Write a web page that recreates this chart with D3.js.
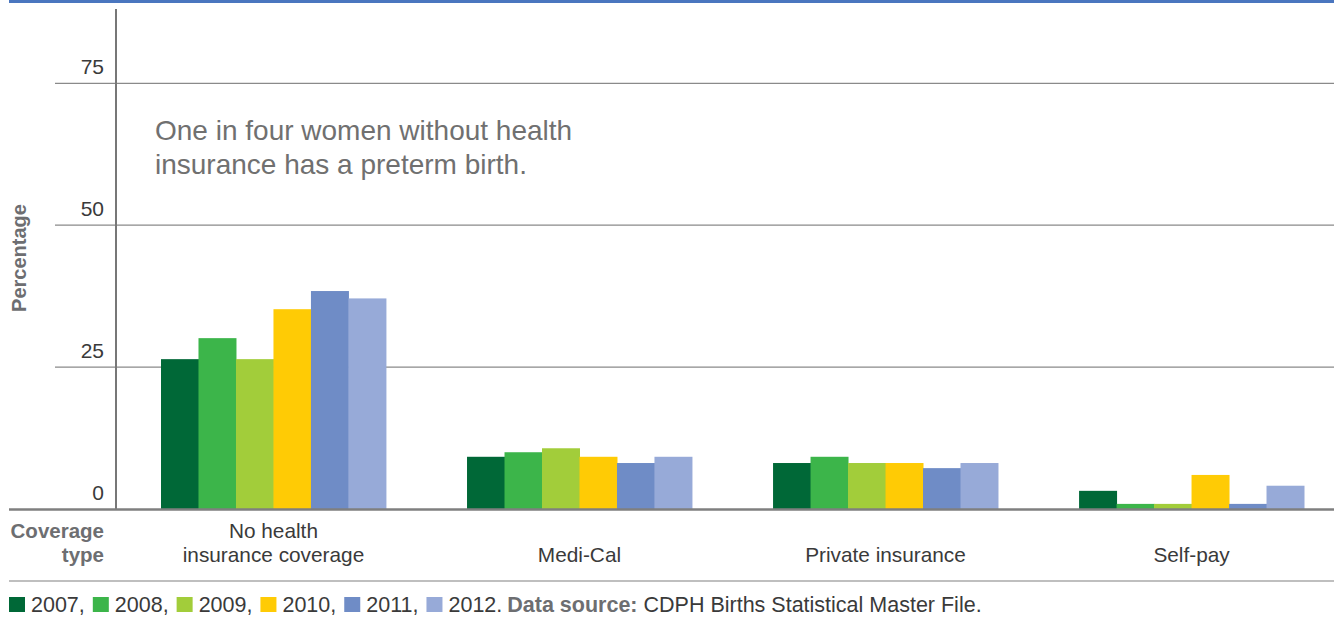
<!DOCTYPE html>
<html lang="en">
<head>
    <meta charset="UTF-8">
    <title>Preterm birth by coverage type</title>
    <style>
        body { margin: 0; background: #fff; }
        svg text { font-family: "Liberation Sans", Arial, sans-serif; }
    </style>
</head>
<body>

<svg class="chart"></svg>

<script src="https://cdn.jsdelivr.net/npm/d3@7/dist/d3.min.js"></script>

<script>

    var categories = ["No health insurance coverage", "Medi-Cal", "Private insurance", "Self-pay"];
    var categoryLines = [["No health", "insurance coverage"], ["Medi-Cal"], ["Private insurance"], ["Self-pay"]];
    var years = ["2007", "2008", "2009", "2010", "2011", "2012"];
    var colors = ["#006837", "#3cb54a", "#a2cd3a", "#ffcb05", "#6f8cc6", "#97aad8"];

    // percentage per coverage type, one array per year
    var v2007 = [26.4, 9.2, 8.1, 3.2];
    var v2008 = [30.1, 10.0, 9.2, 0.9];
    var v2009 = [26.4, 10.7, 8.1, 0.9];
    var v2010 = [35.2, 9.2, 8.1, 6.0];
    var v2011 = [38.4, 8.1, 7.2, 0.9];
    var v2012 = [37.1, 9.2, 8.1, 4.1];
    var series = [v2007, v2008, v2009, v2010, v2011, v2012];

    var yTicks = [0, 25, 50, 75];

    var width = 1334, height = 631;

    var svg = d3.select(".chart")
            .attr("width", width)
            .attr("height", height);

    var y = d3.scaleLinear().domain([0, 88]).range([509, 9.5]);

    var x0 = d3.scaleBand()
            .domain(categories)
            .range([161, 1304])
            .paddingInner(0.265)
            .paddingOuter(0);

    var x1 = d3.scaleBand()
            .domain(years)
            .range([0, x0.bandwidth()])
            .padding(0);

    // top rule
    svg.append("rect")
            .attr("x", 9).attr("y", 0)
            .attr("width", width - 9).attr("height", 3)
            .attr("fill", "#4a76bf");

    // gridlines
    svg.selectAll(".grid")
            .data(yTicks.filter(function (d) { return d > 0; }))
            .enter().append("line")
            .attr("x1", 55).attr("x2", width)
            .attr("y1", function (d) { return y(d); })
            .attr("y2", function (d) { return y(d); })
            .attr("stroke", "#8a8a8a")
            .attr("stroke-width", 1.3);

    // tick labels
    svg.selectAll(".tick-label")
            .data(yTicks)
            .enter().append("text")
            .attr("x", 104)
            .attr("y", function (d) { return y(d) - 9; })
            .attr("text-anchor", "end")
            .attr("font-size", 21)
            .attr("fill", "#3a3a3a")
            .text(function (d) { return d; });

    // bars
    var group = svg.selectAll(".group")
            .data(categories)
            .enter().append("g")
            .attr("transform", function (d) { return "translate(" + x0(d) + ",0)"; });

    group.selectAll("rect")
            .data(function (d, i) {
                return years.map(function (yr, j) { return {year: yr, value: series[j][i], color: colors[j]}; });
            })
            .enter().append("rect")
            .attr("x", function (d) { return x1(d.year); })
            .attr("y", function (d) { return y(d.value); })
            .attr("width", x1.bandwidth() + 0.5)
            .attr("height", function (d) { return y(0) - y(d.value); })
            .attr("fill", function (d) { return d.color; });

    // y axis line
    svg.append("line")
            .attr("x1", 116).attr("x2", 116)
            .attr("y1", 9).attr("y2", y(0))
            .attr("stroke", "#777").attr("stroke-width", 2);

    // baseline
    svg.append("line")
            .attr("x1", 9).attr("x2", width)
            .attr("y1", y(0) + 0.5).attr("y2", y(0) + 0.5)
            .attr("stroke", "#7f7f7f").attr("stroke-width", 2.5);

    // category labels, bottom aligned
    group.each(function (d, i) {
        var lines = categoryLines[i];
        var t = d3.select(this).append("text")
                .attr("text-anchor", "middle")
                .attr("font-size", 20.8)
                .attr("fill", "#3a3a3a");
        lines.forEach(function (line, k) {
            t.append("tspan")
                    .attr("x", x0.bandwidth() / 2)
                    .attr("y", 562 - (lines.length - 1 - k) * 24)
                    .text(line);
        });
    });

    var cov = svg.append("text")
            .attr("text-anchor", "end")
            .attr("font-size", 20.5)
            .attr("font-weight", "bold")
            .attr("fill", "#6d6e71");
    cov.append("tspan").attr("x", 104).attr("y", 538).text("Coverage");
    cov.append("tspan").attr("x", 104).attr("y", 562).text("type");

    // y title
    svg.append("text")
            .attr("transform", "translate(26,258) rotate(-90)")
            .attr("text-anchor", "middle")
            .attr("font-size", 20)
            .attr("font-weight", "bold")
            .attr("fill", "#6d6e71")
            .text("Percentage");

    // annotation
    var note = svg.append("text")
            .attr("font-size", 28)
            .attr("fill", "#707070");
    note.append("tspan").attr("x", 155).attr("y", 140).text("One in four women without health");
    note.append("tspan").attr("x", 155).attr("y", 174).text("insurance has a preterm birth.");

    // bottom rule
    svg.append("line")
            .attr("x1", 9).attr("x2", width)
            .attr("y1", 581).attr("y2", 581)
            .attr("stroke", "#aaa").attr("stroke-width", 1.5);

    // legend
    var lx = 9;
    years.forEach(function (yr, j) {
        svg.append("rect")
                .attr("x", lx).attr("y", 597)
                .attr("width", 16).attr("height", 15)
                .attr("fill", colors[j]);
        var t = svg.append("text")
                .attr("x", lx + 22).attr("y", 612)
                .attr("font-size", 21.5)
                .attr("fill", "#3a3a3a")
                .text(yr + (j < years.length - 1 ? "," : "."));
        lx += 22 + t.node().getComputedTextLength() + 8;
    });
    var src = svg.append("text")
            .attr("x", lx - 3).attr("y", 612)
            .attr("font-size", 21.5);
    src.append("tspan").attr("font-weight", "bold").attr("fill", "#6d6e71").text("Data source:");
    src.append("tspan").attr("fill", "#3a3a3a").text(" CDPH Births Statistical Master File.");

</script>

</body>
</html>
